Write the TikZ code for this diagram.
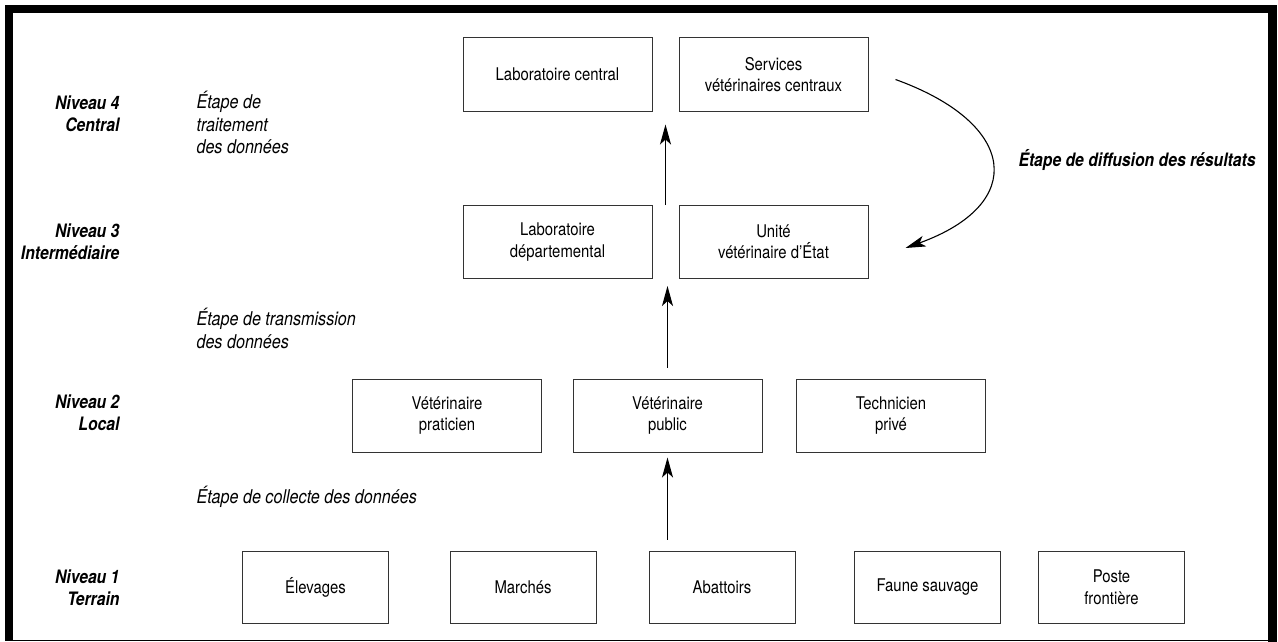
\documentclass[tikz,border=0pt]{standalone}
\usepackage{fontspec}
\setmainfont{TeX Gyre Heros}[FakeStretch=0.85]
\usepackage{tikz}
\usetikzlibrary{arrows.meta, calc}
\definecolor{Trait}{HTML}{333333}

\begin{document}
\begin{tikzpicture}[x=1pt, y=-1pt,
  boite/.style={draw=Trait, line width=1pt, minimum width=189pt, minimum height=73pt, inner sep=0pt, align=center, font=\fontsize{17.5}{21.5}\selectfont},
  boitebasse/.style={boite, minimum width=146pt, minimum height=72pt},
  niveau/.style={anchor=east, align=right, font=\fontsize{18.5}{22}\selectfont\bfseries\itshape},
  etape/.style={anchor=west, align=left, font=\fontsize{19}{22.5}\selectfont\itshape},
  fleche/.style={-{Stealth[length=20pt, width=11pt, inset=5pt]}, line width=1.1pt}]
\useasboundingbox (0,0) rectangle (1278,642);
% Cadre
\fill[black] (5,5) rectangle (1277,640.5);
\fill[white] (13,13) rectangle (1268,639.5);
\fill[black] (1268,640.5) rectangle (1277,642);
% Niveaux
\node[niveau] (niv4) at (123,114) {Niveau 4\\Central};
\node[niveau] (niv3) at (123,242) {Niveau 3\\Intermédiaire};
\node[niveau] (niv2) at (123,412.5) {Niveau 2\\Local};
\node[niveau] (niv1) at (123,587.5) {Niveau 1\\Terrain};
% Etapes
\node[etape] (traitement) at (193,122.5) {Étape de\\traitement\\des données};
\node[etape] (transmission) at (193,328.5) {Étape de transmission\\des données};
\node[etape] (collecte) at (193,497) {Étape de collecte des données};
\node[etape, font=\fontsize{18.5}{22}\selectfont\bfseries\itshape] (diffusion) at (1015,160) {Étape de diffusion des résultats};
% Niveau 4
\node[boite] (labc) at (557.5,74.5) {Laboratoire central};
\node[boite] (svc) at (773.5,74.5) {Services\\vétérinaires centraux};
% Niveau 3
\node[boite] (labdep) at (557.5,242) {Laboratoire\\départemental};
\node[boite] (unite) at (773.5,242) {Unité\\vétérinaire d’État};
% Niveau 2
\node[boite] (prat) at (447,415.5) {Vétérinaire\\praticien};
\node[boite] (pub) at (667.5,415.5) {Vétérinaire\\public};
\node[boite] (tech) at (891,415.5) {Technicien\\privé};
% Niveau 1
\foreach \nom/\x/\txt in {elev/315.5/Élevages, march/523/Marchés, abat/722/Abattoirs, faune/927.5/Faune sauvage, poste/1111.5/{Poste\\frontière}}
  \node[boitebasse] (\nom) at (\x,587) {\txt};
% Fleches
\draw[fleche] ($(pub.south |- abat.north)+(0,-11)$) -- ($(pub.south)+(0,5)$);
\draw[fleche] ($(pub.north)+(0,-11)$) -- ($(pub.north |- unite.south)+(0,7)$);
\draw[fleche] ($(labdep.north east)!.5!(unite.north west)$) -- ($(labc.south east)!.5!(svc.south west)+(0,13)$);
\draw[fleche] ($(svc.east)+(27,5)$) .. controls +(122,44) and +(122,-44) .. ($(unite.east)+(37,6)$);
\end{tikzpicture}
\end{document}
